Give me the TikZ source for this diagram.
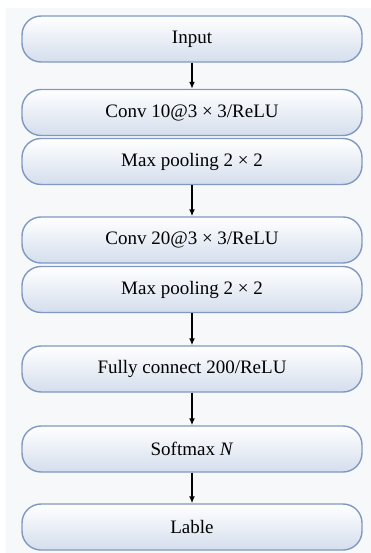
\documentclass[tikz,border=0pt]{standalone}
\usepackage{fontspec}
\setmainfont{Liberation Serif}
\usepackage{tikz}
\usetikzlibrary{positioning, arrows.meta, calc}

\definecolor{panelgray}{RGB}{247,248,250}
\definecolor{boxblue}{RGB}{212,222,237}
\definecolor{edgeblue}{RGB}{128,153,194}

\tikzset{
  layer/.style={draw=edgeblue, line width=1.4pt, rounded corners=19pt,
    top color=white, bottom color=boxblue, minimum width=340pt,
    minimum height=46pt, inner sep=0pt,
    font=\fontsize{19}{22}\selectfont},
  flow/.style={-{Latex[length=7pt,width=6pt]}, line width=1.4pt, black}
}

\begin{document}
\begin{tikzpicture}[x=1pt, y=-1pt]
\useasboundingbox (0,0) rectangle (371,553);
\fill[panelgray] (6,8) rectangle (371,553);

\node[layer] (input) at (192, 39) {Input};
\node[layer] (conv1) at (192, 112.5) {Conv 10@3 × 3/ReLU};
\node[layer] (pool1) at (192, 161.5) {Max pooling 2 × 2};
\node[layer] (conv2) at (192, 240) {Conv 20@3 × 3/ReLU};
\node[layer] (pool2) at (192, 289.5) {Max pooling 2 × 2};
\node[layer] (fc) at (192, 369) {Fully connect 200/ReLU};
\node[layer] (soft) at (192, 449) {Softmax \textit{N}};
\node[layer] (label) at (192, 527) {Lable};

\draw[flow] (input) -- (conv1);
\draw[flow] (pool1) -- (conv2);
\draw[flow] (pool2) -- (fc);
\draw[flow] (fc) -- (soft);
\draw[flow] (soft) -- (label);
\end{tikzpicture}
\end{document}
